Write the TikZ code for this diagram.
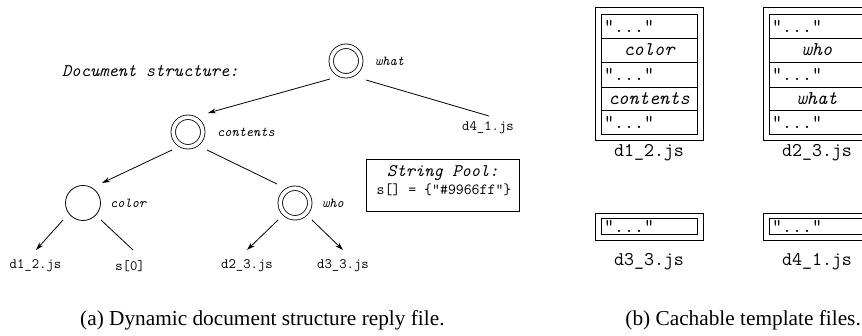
\documentclass[tikz,border=0pt]{standalone}
\usepackage{fontspec}
\setmainfont{Liberation Serif}
\setmonofont{Latin Modern Mono}
\usetikzlibrary{arrows.meta,calc}
\begin{document}
\begin{tikzpicture}[x=1pt,y=-1pt,
  lw/.style={line width=0.8pt},
  dnode/.style={circle,draw,lw,double,double distance=3.7pt,minimum size=29.5pt,inner sep=0pt},
  snode/.style={circle,draw,lw,minimum size=35pt,inner sep=0pt},
  lbl/.style={font=\ttfamily\itshape\fontsize{13.7}{15}\selectfont,anchor=west,inner sep=0pt},
  leaf/.style={font=\ttfamily\fontsize{14.3}{16}\selectfont,inner sep=0pt},
  edgeln/.style={lw},
  arr/.style={lw,-{Stealth[length=8pt,width=5pt]}},
  boxtxt/.style={font=\ttfamily\fontsize{19.4}{21}\selectfont,inner sep=0pt},
  boxit/.style={font=\ttfamily\itshape\fontsize{19.4}{21}\selectfont,inner sep=0pt},
  dots/.style={boxtxt,anchor=west},
  captxt/.style={font=\fontsize{21.3}{24}\selectfont,inner sep=0pt}
]
\useasboundingbox (0,0) rectangle (862,336);
\clip (0,0) rectangle (862,336);

% ---- tree ----
\node[font=\ttfamily\itshape\fontsize{17.7}{20}\selectfont,anchor=west,inner sep=0pt] (title) at (62,71) {Document structure:};

\node[dnode] (what) at (346,61) {};
\node[lbl] (whatl) at (375,61) {what};
\node[dnode] (contents) at (188,132) {};
\node[lbl] (contentsl) at (217,132) {contents};
\node[snode] (color) at (83,203) {};
\node[lbl] (colorl) at (110,203) {color};
\node[dnode] (who) at (295,203) {};
\node[lbl] (whol) at (322,203) {who};

\node[leaf] (d41) at (488,128) {d4\_1.js};
\node[leaf] (d12) at (35.5,266) {d1\_2.js};
\node[leaf] (s0) at (130,266) {s[0]};
\node[leaf] (d23) at (247,266) {d2\_3.js};
\node[leaf] (d33) at (343,266) {d3\_3.js};

\draw[arr] ($(what)+(-16,18)$) -- ($(contents)+(20,-19)$);
\draw[edgeln] ($(what)+(20,19)$) -- ($(d41)+(1,-12)$);
\draw[arr] ($(contents)+(-16,18)$) -- ($(color)+(19,-20)$);
\draw[edgeln] ($(contents)+(19,18)$) -- ($(who)+(-18,-19)$);
\draw[arr] ($(color)+(-20,17)$) -- ($(d12)+(0.5,-16)$);
\draw[edgeln] ($(color)+(18,17)$) -- ($(s0)+(3,-16)$);
\draw[arr] ($(who)+(-17,17)$) -- ($(d23)+(0,-16)$);
\draw[arr] ($(who)+(17,17)$) -- ($(d33)+(0,-16)$);

% ---- string pool ----
\draw[lw] (366,159) rectangle (519,211);
\node[font=\ttfamily\itshape\fontsize{17.7}{20}\selectfont,inner sep=0pt] (sp) at (443,173) {String Pool:};
\node[font=\ttfamily\fontsize{15.4}{17}\selectfont,inner sep=0pt] (spv) at (444,190) {s[] = \{"\#9966ff"\}};

% ---- template d1_2 ----
\draw[lw] (595,7) rectangle (703,140);
\draw[lw] (601,14) rectangle (697,134);
\foreach \yy in {38,62,87,110} \draw[lw] (601,\yy) -- (697,\yy);
\node[dots] (a1) at (604,26) {"..."};
\node[boxit] (a2) at (649,50) {color};
\node[dots] (a3) at (604,74.5) {"..."};
\node[boxit] (a4) at (649,98.5) {contents};
\node[dots] (a5) at (604,122) {"..."};
\node[boxtxt] (a6) at (649,153) {d1\_2.js};

% ---- template d2_3 ----
\draw[lw] (763,7) rectangle (871,140);
\draw[lw] (769,14) rectangle (865,134);
\foreach \yy in {38,62,87,110} \draw[lw] (769,\yy) -- (865,\yy);
\node[dots] (b1) at (772,26) {"..."};
\node[boxit] (b2) at (817,50) {who};
\node[dots] (b3) at (772,74.5) {"..."};
\node[boxit] (b4) at (817,98.5) {what};
\node[dots] (b5) at (772,122) {"..."};
\node[boxtxt] (b6) at (817,153) {d2\_3.js};

% ---- template d3_3 ----
\draw[lw] (595,213) rectangle (703,240);
\draw[lw] (601,218) rectangle (697,234);
\node[dots] (c1) at (604,226) {"..."};
\node[boxtxt] (c2) at (649,262) {d3\_3.js};

% ---- template d4_1 ----
\draw[lw] (763,213) rectangle (871,240);
\draw[lw] (769,218) rectangle (865,234);
\node[dots] (e1) at (772,226) {"..."};
\node[boxtxt] (e2) at (817,262) {d4\_1.js};

% ---- captions ----
\node[captxt,anchor=west] (capa) at (80,320) {(a) Dynamic document structure reply file.};
\node[captxt,anchor=east] (capb) at (861,320) {(b) Cachable template files.};
\end{tikzpicture}
\end{document}
